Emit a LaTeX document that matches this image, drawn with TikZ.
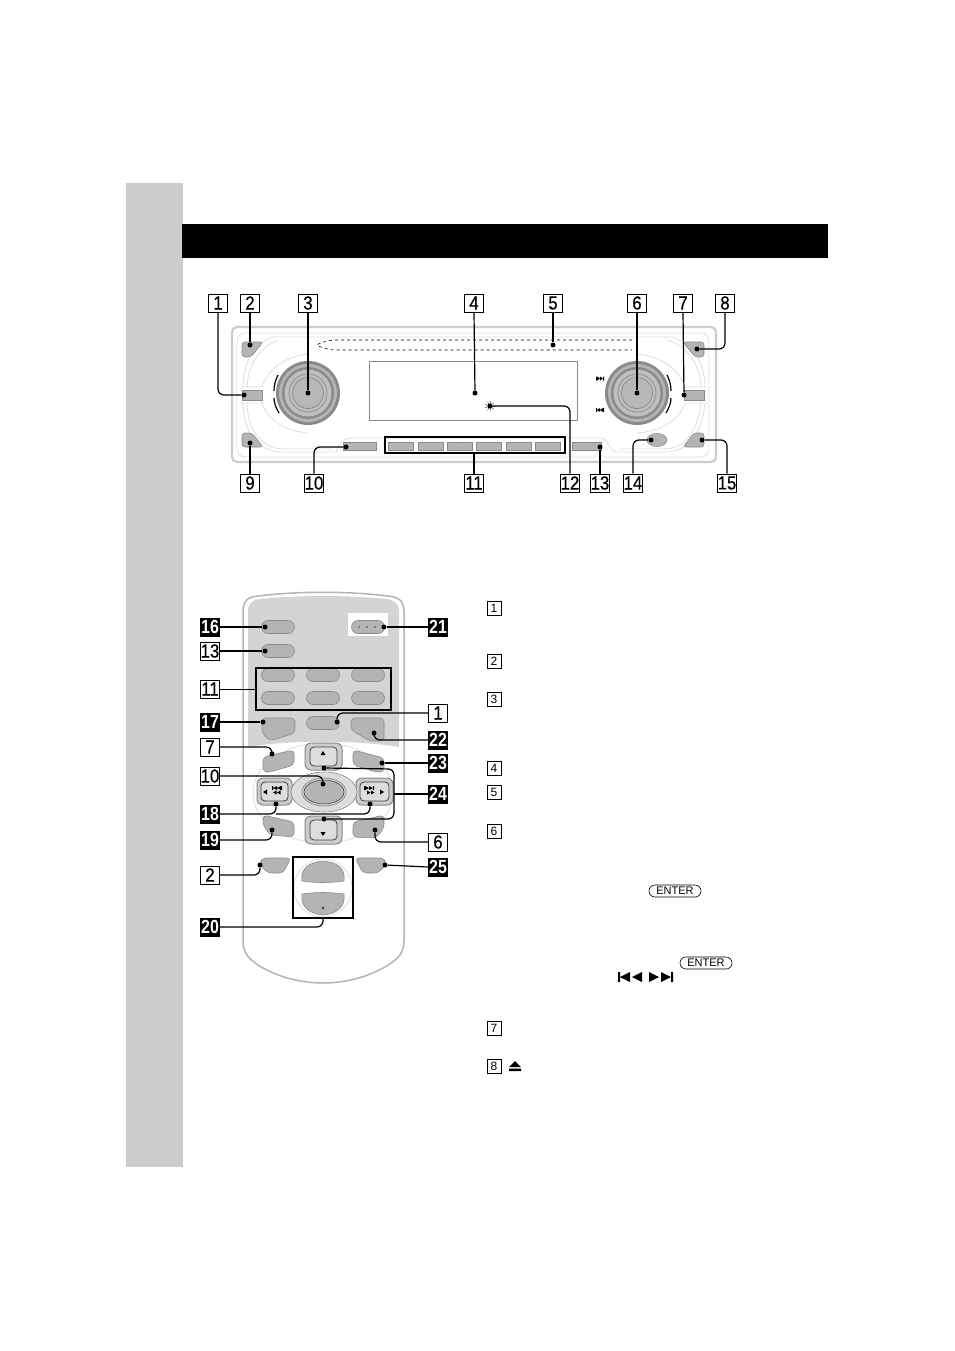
\documentclass[tikz,border=0pt]{standalone}
\usepackage{fontspec}
\setmainfont{Liberation Sans}
\newfontfamily\numfont[FakeStretch=0.88,FakeBold=0.5]{Liberation Sans}
\newfontfamily\darkfont[FakeStretch=0.84]{Liberation Sans}
\usetikzlibrary{shapes.misc,shapes.geometric}
\definecolor{sidegray}{HTML}{CCCCCC}
\definecolor{keygray}{HTML}{B4B4B4}
\definecolor{linegray}{HTML}{8A8A8A}
\definecolor{palegray}{HTML}{DDDDDD}
\tikzset{
  numbox/.style={draw=black,fill=white,line width=.7pt,inner sep=0pt,minimum width=19pt,minimum height=18pt,font=\numfont\fontsize{19}{19}\selectfont},
  numdark/.style={numbox,fill=black,text=white,font=\darkfont\bfseries\fontsize{19}{19}\selectfont},
  smallbox/.style={draw=black,line width=.6pt,inner sep=0pt,minimum width=14pt,minimum height=14pt,font=\fontsize{12}{12}\selectfont},
  enterkey/.style={draw=black,rounded rectangle,line width=.6pt,inner sep=0pt,minimum width=52pt,minimum height=12pt,font=\fontsize{11}{11}\selectfont},
  dot/.style={circle,fill=black,inner sep=0pt,minimum size=5pt},
  leader/.style={line width=1.2pt,rounded corners=6pt},
  keybtn/.style={draw=linegray,fill=keygray,line width=.6pt,inner sep=0pt},
  padkey/.style={draw=linegray,fill=sidegray,line width=1pt,rounded corners=6pt},
  padface/.style={draw=black!75,fill=palegray,line width=.8pt,rounded corners=4pt},
  pill/.style={keybtn,rounded rectangle,minimum width=33pt,minimum height=13pt},
  markbox/.style={draw=black,line width=1.4pt,inner sep=0pt},
  pale/.style={draw=palegray,line width=.8pt},
}
\begin{document}
\begin{tikzpicture}[x=1pt,y=-1pt]
  \useasboundingbox (0,0) rectangle (954,1351);
  \fill[white] (0,0) rectangle (954,1351);
  % page furniture
  \fill[sidegray] (126,183) rectangle (183,1167);
  \fill[black] (182,224) rectangle (828,258);

  % head unit
  \draw[sidegray,line width=2.2pt,rounded corners=5pt] (232,327) rectangle (716,462);
  \draw[pale,rounded corners=8pt] (237,333) rectangle (709,457);
  \draw[pale] (272,337) .. controls (252,345) and (243,365) .. (243,388);
  \draw[pale] (278,340) .. controls (258,348) and (247,368) .. (247,388);
  \draw[pale] (243,402) .. controls (243,432) and (258,452) .. (282,452) -- (336,452) .. controls (340,440) and (345,438) .. (352,438) -- (600,438) .. controls (608,438) and (610,452) .. (616,452) -- (665,452) .. controls (690,452) and (703,430) .. (705,402);
  \draw[pale] (247,402) .. controls (247,430) and (262,449) .. (284,449) -- (332,449);
  \draw[pale] (272,337) -- (672,337) .. controls (695,345) and (705,365) .. (705,388);
  \draw[pale] (668,340) .. controls (690,348) and (701,368) .. (701,388);
  \draw[pale] (701,402) .. controls (699,428) and (686,449) .. (664,449) -- (620,449);
  \draw[pale] (241,387) -- (262,387) .. controls (265,378) and (275,358) .. (308,354);
  \draw[pale] (241,403) -- (262,403) .. controls (265,412) and (275,430) .. (308,433);
  \draw[pale] (706,387) -- (685,387) .. controls (682,378) and (672,358) .. (637,354);
  \draw[pale] (706,403) -- (685,403) .. controls (682,412) and (672,430) .. (637,433);
  \draw[black,line width=.6pt,dashed,rounded corners=4pt] (632,340) -- (330,340) -- (315,345) -- (330,350) -- (632,350);
  \draw[linegray,line width=.8pt,fill=white] (369,361) rectangle (577,420);

  % corner keys
  \draw[keybtn,rounded corners=3pt] (242,342) -- (263,342) -- (251,357) -- (242,357) -- cycle;
  \draw[keybtn,rounded corners=3pt] (242,433) -- (242,447) -- (263,447) -- (252,433) -- cycle;
  \draw[keybtn,rounded corners=3pt] (704,342) -- (683,342) -- (695,357) -- (704,357) -- cycle;
  \draw[keybtn,rounded corners=3pt] (704,433) -- (704,447) -- (683,447) -- (694,433) -- cycle;
  \node[keybtn,minimum width=20pt,minimum height=10pt] (keyoff) at (252,395) {};
  \node[keybtn,minimum width=20pt,minimum height=10pt] (keysource) at (694,395) {};
  \node[keybtn,ellipse,minimum width=20pt,minimum height=13pt] (keyrel) at (657,440) {};
  \node[keybtn,minimum width=33pt,minimum height=8pt] (keymode) at (360,446) {};
  \node[keybtn,minimum width=29pt,minimum height=8pt] (keydsp) at (587,446) {};
  \foreach \n/\x in {a/400.5,b/430.5,c/459.5,d/489,e/518.5,f/547.5}
    \node[keybtn,minimum width=25pt,minimum height=8pt] (key\n) at (\x,446) {};
  \fill[white,draw=linegray,line width=.3pt] (459.5,446) circle (1.3);

  % knobs
  \foreach \c in {308,637} {
    \fill[linegray] (\c,393) circle (32);
    \fill[keygray] (\c,393) circle (29);
    \fill[linegray] (\c,393) circle (26);
    \fill[keygray!85] (\c,393) circle (23.5);
    \draw[linegray,line width=.7pt] (\c,393) circle (19);
    \fill[sidegray!90!black] (\c,393) circle (15.5);
    \draw[linegray,line width=.7pt] (\c,393) circle (15.5);
  }
  \draw[black,line width=1.2pt] (278,375) .. controls (275,381) and (274,386) .. (274,391);
  \draw[black,line width=1.2pt] (274,398) .. controls (274,403) and (276,408) .. (279,413);
  \draw[black,line width=1.2pt] (667,375) .. controls (670,381) and (671,386) .. (671,391);
  \draw[black,line width=1.2pt] (671,398) .. controls (671,403) and (669,408) .. (666,413);
  \fill[black] (596,376.5) rectangle (597,380.5) (597,376.5) -- (600,378.5) -- (597,380.5) (600,376.5) -- (603,378.5) -- (600,380.5) (603,376.5) rectangle (604,380.5);
  \fill[black] (596,408) rectangle (597,412) (600,408) -- (597,410) -- (600,412) (603,408) -- (600,410) -- (603,412) (603,408) rectangle (604,412);

  % sun mark of the sensor
  \foreach \a in {0,40,...,320}
    \draw[black!60,line width=.6pt] (490,406) -- ++(\a:5);

  \node[markbox,minimum width=180pt,minimum height=16pt] (rowpanel) at (475,445) {};

  % labels above and below the head unit
  \foreach \n/\x in {1/218,2/250,3/308,4/474,5/553,6/637,7/683,8/725}
    \node[numbox] (top\n) at (\x,303) {\n};
  \foreach \n/\x in {9/250,10/314,11/474,12/570,13/600,14/633,15/727}
    \node[numbox] (low\n) at (\x,483) {\n};
  \node[dot] (d1) at (244,395) {};
  \node[dot] (d2) at (250,345) {};
  \node[dot] (d3) at (308,393) {};
  \node[dot] (d4) at (475,393) {};
  \node[dot] (d5) at (553,345) {};
  \node[dot] (d6) at (637,393) {};
  \node[dot] (d7) at (684,395) {};
  \node[dot] (d8) at (697,349) {};
  \node[dot] (d9) at (250,443) {};
  \node[dot] (d10) at (346,447) {};
  \node[dot] (d12) at (490,406) {};
  \node[dot] (d13) at (600,447) {};
  \node[dot] (d14) at (651,440) {};
  \node[dot] (d15) at (702,440) {};
  \draw[leader] (top1.south) |- (d1);
  \draw[leader] (top2.south) -- (d2);
  \draw[leader] (top3.south) -- (d3);
  \draw[leader] (top4.south) -- (d4);
  \draw[leader] (top5.south) -- (d5);
  \draw[leader] (top6.south) -- (d6);
  \draw[leader] (top7.south) -- (d7);
  \draw[leader] (top8.south) |- (d8);
  \draw[leader] (low9.north) -- (d9);
  \draw[leader] (low10.north) |- (d10);
  \draw[leader] (low11.north) -- (low11.north |- rowpanel.south);
  \draw[leader] (low12.north) |- (d12);
  \draw[leader] (low13.north) -- (d13);
  \draw[leader] (low14.north) |- (d14);
  \draw[leader] (low15.north) |- (d15);

  % remote
  \draw[keygray,line width=1.5pt,fill=white] (243,612) .. controls (243,600) and (248,597) .. (258,596) .. controls (300,591) and (346,591) .. (388,596) .. controls (398,597) and (404,600) .. (404,612) -- (404,940) .. controls (404,952) and (400,958) .. (385,967) .. controls (367,977) and (346,983) .. (323,983) .. controls (300,983) and (279,977) .. (261,967) .. controls (247,958) and (243,952) .. (243,940) -- cycle;
  \fill[sidegray!85] (248,612) .. controls (248,603) and (252,600) .. (260,599) .. controls (300,595) and (346,595) .. (386,599) .. controls (394,600) and (399,603) .. (399,612) -- (399,747) .. controls (360,740) and (286,740) .. (248,747) -- cycle;
  \fill[white] (348,613) rectangle (388,636);
  \draw[pale,fill=white] (323,793) ellipse (70 and 50);
  \node[pill] (keyfrq) at (278,627) {};
  \node[pill] (keyatt) at (278,651) {};
  \node[pill] (keyvol) at (368,627) {};
  \foreach \n/\x in {a/278,b/323,c/368} {
    \node[pill] (rowone\n) at (\x,675) {};
    \node[pill] (rowtwo\n) at (\x,698) {};
  }
  \node[markbox,minimum width=135pt,minimum height=42pt] (remotepanel) at (323.5,689) {};
  \node[pill] (keyoffb) at (323,723) {};
  \draw[keybtn,rounded corners=4pt] (262,718) -- (295,718) -- (295,733) -- (270,741) -- (262,733) -- cycle;
  \draw[keybtn,rounded corners=4pt] (351,718) -- (384,718) -- (384,741) -- (370,741) -- (351,730) -- cycle;
  \draw[keybtn,rounded corners=4pt] (263,757) -- (294,750) -- (294,765) -- (270,772) -- (263,772) -- cycle;
  \draw[keybtn,rounded corners=4pt] (353,750) -- (384,758) -- (384,772) -- (376,772) -- (353,765) -- cycle;
  \draw[keybtn,rounded corners=4pt] (263,815) -- (294,822) -- (294,837) -- (270,835) -- (263,825) -- cycle;
  \draw[keybtn,rounded corners=4pt] (353,822) -- (384,815) -- (384,828) -- (376,838) -- (353,837) -- cycle;
  \draw[padkey] (305,743) rectangle (342,770);
  \draw[padkey] (305,816) rectangle (342,844);
  \draw[padkey] (257,778) rectangle (292,805);
  \draw[padkey] (356,778) rectangle (393,805);
  \draw[padface] (310,747) rectangle (337,766);
  \draw[padface] (310,820) rectangle (337,840);
  \draw[padface] (261,782) rectangle (288,801);
  \draw[padface] (360,782) rectangle (389,801);
  \draw[linegray,line width=.6pt,fill=palegray] (324,792) ellipse (33 and 20);
  \draw[linegray,line width=.8pt,fill=palegray] (324,792) ellipse (22 and 14);
  \node[keybtn,draw=black!75,ellipse,minimum width=40pt,minimum height=24pt] (padmid) at (324,792) {};
  \draw[keybtn,rounded corners=4pt] (262,858) -- (291,858) -- (283,873) -- (268,873) -- (260,865) -- cycle;
  \draw[keybtn,rounded corners=4pt] (355,858) -- (384,858) -- (386,865) -- (378,873) -- (363,873) -- cycle;
  % source dial
  \draw[pale,fill=white] (323,888) circle (29);
  \draw[keybtn] (302,881) .. controls (300,868) and (310,862) .. (323,861) .. controls (336,862) and (346,868) .. (344,881) .. controls (330,883) and (316,883) .. (302,881) -- cycle;
  \draw[keybtn] (302,894) .. controls (316,892) and (330,892) .. (344,894) .. controls (346,907) and (336,914) .. (323,915) .. controls (310,914) and (300,907) .. (302,894) -- cycle;
  \node[markbox,minimum width=60pt,minimum height=61pt] (dialpanel) at (323,887.5) {};
  \draw[black,line width=.3pt] (323,908) circle (1.2);
  \foreach \x in {359,367,375}
    \fill[black!70] (\x,627) circle (.9);
  \fill[black] (323,751) -- (325.5,755) -- (320.5,755) -- cycle (323,836) -- (325.5,832) -- (320.5,832) -- cycle;
  \fill[black] (263,792) -- (267,789.5) -- (267,794.5) -- cycle (384,792) -- (380,789.5) -- (380,794.5) -- cycle;
  % track marks on the pad keys
  \fill[black] (272,786) rectangle (273,790) (277,786) -- (273,788) -- (277,790) (281,786) -- (277,788) -- (281,790) (281,786) rectangle (282,790);
  \fill[black] (273,792.5) -- (276.5,794.5) -- (276.5,790.5) (277,792.5) -- (280.5,794.5) -- (280.5,790.5);
  \fill[black] (364,786) rectangle (365,790) (365,786) -- (369,788) -- (365,790) (369,786) -- (373,788) -- (369,790) (373,786) rectangle (374,790);
  \fill[black] (367,790.5) -- (370.5,792.5) -- (367,794.5) (371,790.5) -- (374.5,792.5) -- (371,794.5);

  % labels of the remote
  \foreach \n/\y in {13/651,11/689,7/747,10/776,2/875}
    \node[numbox] (left\n) at (210,\y) {\n};
  \foreach \n/\y in {16/627,17/722,18/814,19/840,20/927}
    \node[numdark] (left\n) at (210,\y) {\n};
  \foreach \n/\y in {1/713,6/842}
    \node[numbox] (right\n) at (438,\y) {\n};
  \foreach \n/\y in {21/627,22/740,23/763,24/794,25/867}
    \node[numdark] (right\n) at (438,\y) {\n};
  \node[dot] (r16) at (265,627) {};
  \node[dot] (r13) at (265,651) {};
  \node[dot] (r17) at (263,722) {};
  \node[dot] (r7) at (272,754) {};
  \node[dot] (r10) at (323,784) {};
  \node[dot] (r18a) at (276,804) {};
  \node[dot] (r18b) at (370,804) {};
  \node[dot] (r19) at (272,830) {};
  \node[dot] (r2) at (260,865) {};
  \node[dot] (r21) at (384,627) {};
  \node[dot] (r1) at (337,722) {};
  \node[dot] (r22) at (374,733) {};
  \node[dot] (r23) at (382,763) {};
  \node[dot] (r24a) at (324,768) {};
  \node[dot] (r24b) at (324,819) {};
  \node[dot] (r6) at (375,830) {};
  \node[dot] (r25) at (385,865) {};
  \coordinate (bend24) at (394,794);
  \coordinate (join18) at (276,814);
  \draw[leader] (left16.east) -- (r16);
  \draw[leader] (left13.east) -- (r13);
  \draw[line width=.7pt] (left11.east) -- (remotepanel.west);
  \draw[leader] (left17.east) -- (r17);
  \draw[leader] (left7.east) -| (r7);
  \draw[leader] (left10.east) -| (r10);
  \draw[leader] (left18.east) -- (join18) -- (r18a);
  \draw[leader] (join18) -| (r18b);
  \draw[leader] (left19.east) -| (r19);
  \draw[leader] (left2.east) -| (r2);
  \draw[leader] (left20.east) -| (dialpanel.south);
  \draw[leader] (right21.west) -- (r21);
  \draw[leader] (right1.west) -| (r1);
  \draw[leader] (right22.west) -| (r22);
  \draw[leader] (right23.west) -- (r23);
  \draw[leader] (r24a) -- (394,769) -- (bend24) -- (394,819) -- (r24b);
  \draw[leader] (right24.west) -- (bend24);
  \draw[leader] (right6.west) -| (r6);
  \draw[leader] (right25.west) -- (r25);

  % text column
  \foreach \n/\y in {1/608,2/661,3/699,4/768,5/792,6/831,7/1028,8/1066}
    \node[smallbox] (txt\n) at (494,\y) {\n};
  \node[enterkey] (enterone) at (675,891) {ENTER};
  \node[enterkey] (entertwo) at (706,963) {ENTER};
  \fill[black] (618,972) rectangle (620,982) (630,972) -- (620,977) -- (630,982) -- cycle (642,972) -- (632,977) -- (642,982) -- cycle;
  \fill[black] (649,972) -- (659,977) -- (649,982) -- cycle (661,972) -- (671,977) -- (661,982) -- cycle (671,972) rectangle (673,982);
  \fill[black] (515,1061) -- (521,1067) -- (509,1067) -- cycle (509,1068.5) rectangle (521,1071);
\end{tikzpicture}
\end{document}
